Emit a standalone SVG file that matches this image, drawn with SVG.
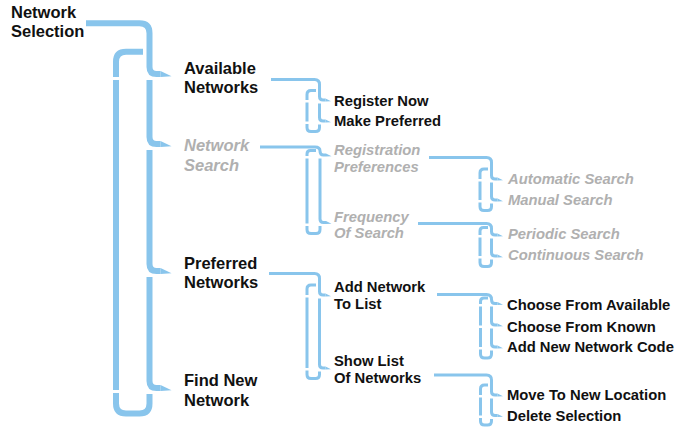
<svg xmlns="http://www.w3.org/2000/svg" width="680" height="429" viewBox="0 0 680 429">
<style>
.c1{fill:none;stroke:#89C5EC;stroke-width:6}
.c2{fill:none;stroke:#89C5EC;stroke-width:3}
.tp{fill:#89C5EC}
text{font-family:"Liberation Sans",Arial,sans-serif;font-weight:bold;fill:#111}
.t1{font-size:16.5px}
.t2{font-size:14.8px}
.g{fill:#B0B0B0;font-style:italic}
</style>
<rect width="680" height="429" fill="#fff"/>
<g id="connectors">
<path class="c1" d="M86,23.3 H139.5 Q149.5,23.3 149.5,33.3 V67 Q149.5,74 156.5,74 H160.5"/>
<polygon class="tp" points="160.5,71 171.5,76.3 160.5,77"/>
<path class="c1" d="M149.5,80 V137 Q149.5,144 156.5,144 H160.5"/>
<polygon class="tp" points="160.5,141 171.5,146.3 160.5,147"/>
<path class="c1" d="M149.5,150 V264 Q149.5,271 156.5,271 H160.5"/>
<polygon class="tp" points="160.5,268 171.5,273.3 160.5,274"/>
<path class="c1" d="M149.5,277 V381 Q149.5,388 156.5,388 H160.5"/>
<polygon class="tp" points="160.5,385 171.5,390.3 160.5,391"/>
<path class="c1" d="M149.5,394 V403.5 Q149.5,413.5 139.5,413.5 H126 Q116,413.5 116,403.5 V393 M116,390 V80 M116,77 V61.7 Q116,51.7 126,51.7 H143"/>
<path class="c2" d="M271,79.5 H314.5 Q319.5,79.5 319.5,84.5 V96.5 Q319.5,100 323,100 H325.5"/>
<polygon class="tp" points="325.5,98.5 331,101.2 325.5,101.5"/>
<path class="c2" d="M319.5,103.5 V117.5 Q319.5,121 323,121 H325.5"/>
<polygon class="tp" points="325.5,119.5 331,122.2 325.5,122.5"/>
<path class="c2" d="M319.5,124.5 V127.5 Q319.5,131.5 315.5,131.5 H311 Q307,131.5 307,127.5 V124 M307,121.5 V102.5 M307,100 V94.5 Q307,90.5 311,90.5 H316"/>
<path class="c2" d="M260,147 H315 Q320,147 320,151 Q320,155 323.5,155 H326"/>
<polygon class="tp" points="326,153.5 331.5,156.2 326,156.5"/>
<path class="c2" d="M320,158.5 V219 Q320,222.5 323.5,222.5 H326"/>
<polygon class="tp" points="326,221 331.5,223.7 326,224"/>
<path class="c2" d="M320,226 V229.5 Q320,233.5 316,233.5 H311 Q307,233.5 307,229.5 V226 M307,223.5 V158.5 M307,156 V154 Q307,150.5 310.5,150.5 H316"/>
<path class="c2" d="M429,157.5 H486.5 Q491.5,157.5 491.5,162.5 V175.5 Q491.5,179 495,179 H497.5"/>
<polygon class="tp" points="497.5,177.5 503,180.2 497.5,180.5"/>
<path class="c2" d="M491.5,182.5 V196.5 Q491.5,200 495,200 H497.5"/>
<polygon class="tp" points="497.5,198.5 503,201.2 497.5,201.5"/>
<path class="c2" d="M491.5,203.5 V206.5 Q491.5,210.5 487.5,210.5 H484 Q480,210.5 480,206.5 V202.5 M480,200 V181.5 M480,179 V173 Q480,169 484,169 H488"/>
<path class="c2" d="M418,223.5 H486.5 Q491.5,223.5 491.5,228.5 V231.5 Q491.5,235 495,235 H497.5"/>
<polygon class="tp" points="497.5,233.5 503,236.2 497.5,236.5"/>
<path class="c2" d="M491.5,238.5 V252.5 Q491.5,256 495,256 H497.5"/>
<polygon class="tp" points="497.5,254.5 503,257.2 497.5,257.5"/>
<path class="c2" d="M491.5,259.5 V262.5 Q491.5,266.5 487.5,266.5 H484 Q480,266.5 480,262.5 V258.5 M480,256 V237.5 M480,235 V231 Q480,227.5 483.5,227.5 H488"/>
<path class="c2" d="M269,273.5 H314.5 Q319.5,273.5 319.5,278.5 V291.5 Q319.5,295 323,295 H325.5"/>
<polygon class="tp" points="325.5,293.5 331,296.2 325.5,296.5"/>
<path class="c2" d="M319.5,298.5 V364.5 Q319.5,368 323,368 H325.5"/>
<polygon class="tp" points="325.5,366.5 331,369.2 325.5,369.5"/>
<path class="c2" d="M319.5,371.5 V374.5 Q319.5,378.5 315.5,378.5 H311 Q307,378.5 307,374.5 V370.5 M307,368 V297.5 M307,295 V289 Q307,285 311,285 H316"/>
<path class="c2" d="M437,294.5 H486.5 Q491.5,294.5 491.5,299.5 Q491.5,303.5 495,303.5 H497.5"/>
<polygon class="tp" points="497.5,302 503,304.7 497.5,305"/>
<path class="c2" d="M491.5,306.5 V321.5 Q491.5,325 495,325 H497.5"/>
<polygon class="tp" points="497.5,323.5 503,326.2 497.5,326.5"/>
<path class="c2" d="M491.5,328.5 V343.5 Q491.5,347 495,347 H497.5"/>
<polygon class="tp" points="497.5,345.5 503,348.2 497.5,348.5"/>
<path class="c2" d="M491.5,350.5 V354 Q491.5,358 487.5,358 H484.5 Q480.5,358 480.5,354 V349.5 M480.5,347 V328 M480.5,325.5 V306.5 M480.5,304 V301.5 Q480.5,298 484,298 H488"/>
<path class="c2" d="M434,375 H486.5 Q491.5,375 491.5,380 V391.5 Q491.5,395 495,395 H497.5"/>
<polygon class="tp" points="497.5,393.5 503,396.2 497.5,396.5"/>
<path class="c2" d="M491.5,398.5 V412 Q491.5,415.5 495,415.5 H497.5"/>
<polygon class="tp" points="497.5,414 503,416.7 497.5,417"/>
<path class="c2" d="M491.5,419 V421 Q491.5,425 487.5,425 H484.5 Q480.5,425 480.5,421 V418 M480.5,415.5 V397.5 M480.5,395 V389 Q480.5,385 484.5,385 H488"/>
</g>
<g id="network-selection"><text class="t1" x="11" y="18.3">Network</text><text class="t1" x="11" y="36.7">Selection</text></g>
<g id="available-networks"><text class="t1" x="184" y="74">Available</text><text class="t1" x="184" y="93">Networks</text></g>
<g id="network-search"><text class="t1 g" x="184" y="151">Network</text><text class="t1 g" x="184" y="170.5">Search</text></g>
<g id="preferred-networks"><text class="t1" x="184" y="269.3">Preferred</text><text class="t1" x="184" y="288">Networks</text></g>
<g id="find-new-network"><text class="t1" x="184" y="386">Find New</text><text class="t1" x="184" y="406">Network</text></g>
<g id="register-now"><text class="t2" x="334" y="105.5">Register Now</text></g>
<g id="make-preferred"><text class="t2" x="334" y="125.5">Make Preferred</text></g>
<g id="registration-preferences"><text class="t2 g" x="334" y="155.3">Registration</text><text class="t2 g" x="334" y="172">Preferences</text></g>
<g id="frequency-of-search"><text class="t2 g" x="334" y="221.7">Frequency</text><text class="t2 g" x="334" y="238.3">Of Search</text></g>
<g id="automatic-search"><text class="t2 g" x="508" y="184">Automatic Search</text></g>
<g id="manual-search"><text class="t2 g" x="508" y="205">Manual Search</text></g>
<g id="periodic-search"><text class="t2 g" x="508" y="239.3">Periodic Search</text></g>
<g id="continuous-search"><text class="t2 g" x="508" y="260">Continuous Search</text></g>
<g id="add-network-to-list"><text class="t2" x="334" y="291.7">Add Network</text><text class="t2" x="334" y="309.3">To List</text></g>
<g id="show-list-of-networks"><text class="t2" x="334" y="366">Show List</text><text class="t2" x="334" y="383.3">Of Networks</text></g>
<g id="choose-from-available"><text class="t2" x="507" y="310">Choose From Available</text></g>
<g id="choose-from-known"><text class="t2" x="507" y="331.5">Choose From Known</text></g>
<g id="add-new-network-code"><text class="t2" x="507" y="352.3">Add New Network Code</text></g>
<g id="move-to-new-location"><text class="t2" x="507" y="400">Move To New Location</text></g>
<g id="delete-selection"><text class="t2" x="507" y="421">Delete Selection</text></g>
</svg>
